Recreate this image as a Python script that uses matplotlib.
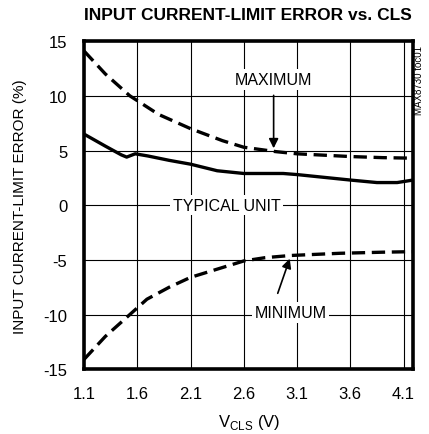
import matplotlib.pyplot as plt

plt.rcParams['font.family'] = ['Liberation Sans Narrow', 'Liberation Sans', 'DejaVu Sans']
plt.rcParams['axes.unicode_minus'] = False

# curves
vcls_max = [1.1, 1.3, 1.53, 1.8, 2.1, 2.4, 2.6, 2.9, 3.1, 3.4, 3.6, 3.9, 4.19]
err_max = [14.1, 12.0, 10.0, 8.3, 7.0, 5.9, 5.3, 4.9, 4.7, 4.55, 4.45, 4.35, 4.3]

vcls_typ = [1.1, 1.3, 1.45, 1.5, 1.58, 1.7, 1.9, 2.1, 2.35, 2.6, 2.97, 3.1, 3.4, 3.6, 3.85, 4.04, 4.19]
err_typ = [6.5, 5.4, 4.6, 4.4, 4.7, 4.5, 4.1, 3.75, 3.15, 2.9, 2.9, 2.8, 2.5, 2.3, 2.07, 2.07, 2.3]

vcls_min = [1.1, 1.3, 1.53, 1.69, 1.9, 2.1, 2.4, 2.6, 2.8, 3.04, 3.5, 3.9, 4.19]
err_min = [-14.1, -12.0, -10.0, -8.6, -7.5, -6.6, -5.7, -5.1, -4.8, -4.6, -4.4, -4.3, -4.25]

xticks = [1.1, 1.6, 2.1, 2.6, 3.1, 3.6, 4.1]
yticks = [-15, -10, -5, 0, 5, 10, 15]

fig = plt.figure(figsize=(4.29, 4.35), dpi=100)
ax = fig.add_axes([0.196, 0.149, 0.767, 0.754])

ax.plot(vcls_max, err_max, color='black', lw=2.4, dashes=(4, 2), zorder=3)
ax.plot(vcls_typ, err_typ, color='black', lw=2.4, zorder=3)
ax.plot(vcls_min, err_min, color='black', lw=2.4, dashes=(4, 2), zorder=3)

ax.set_xlim(1.1, 4.19)
ax.set_ylim(-15, 15)
ax.set_xticks(xticks)
ax.set_xticklabels([f'{v:.1f}' for v in xticks])
ax.set_yticks(yticks)
ax.tick_params(axis='y', length=0, labelsize=12, pad=12)
ax.tick_params(axis='x', length=0, labelsize=12, pad=12)
ax.grid(True, color='black', lw=0.8)
for s in ax.spines.values():
    s.set_linewidth(2.6)

lbl = dict(ha='center', va='center', fontsize=11.5, zorder=4,
           bbox=dict(fc='white', ec='none', pad=2))
ax.text(2.88, 11.5, 'MAXIMUM', **lbl)
ax.text(2.44, 0, 'TYPICAL UNIT', **lbl)
ax.text(3.04, -9.8, 'MINIMUM', **lbl)

arrow = dict(arrowstyle='-|>', color='black', lw=1.2, mutation_scale=14)
ax.annotate('', xy=(2.88, 4.95), xytext=(2.88, 10.3), arrowprops=arrow, zorder=4)
ax.annotate('', xy=(3.04, -4.65), xytext=(2.91, -8.3), arrowprops=arrow, zorder=4)

ax.set_xlabel('V$_{\\mathregular{CLS}}$ (V)', fontsize=12, labelpad=8)
ax.set_ylabel('INPUT CURRENT-LIMIT ERROR (%)', fontsize=11, labelpad=12)

fig.text(0.578, 0.965, 'INPUT CURRENT-LIMIT ERROR vs. CLS', ha='center', va='center',
         fontsize=12.5, fontweight='bold')
fig.text(0.976, 0.816, 'MAX8730 toc01', rotation=90, ha='center', va='center', fontsize=7)

fig.savefig('out.png', dpi=100)
